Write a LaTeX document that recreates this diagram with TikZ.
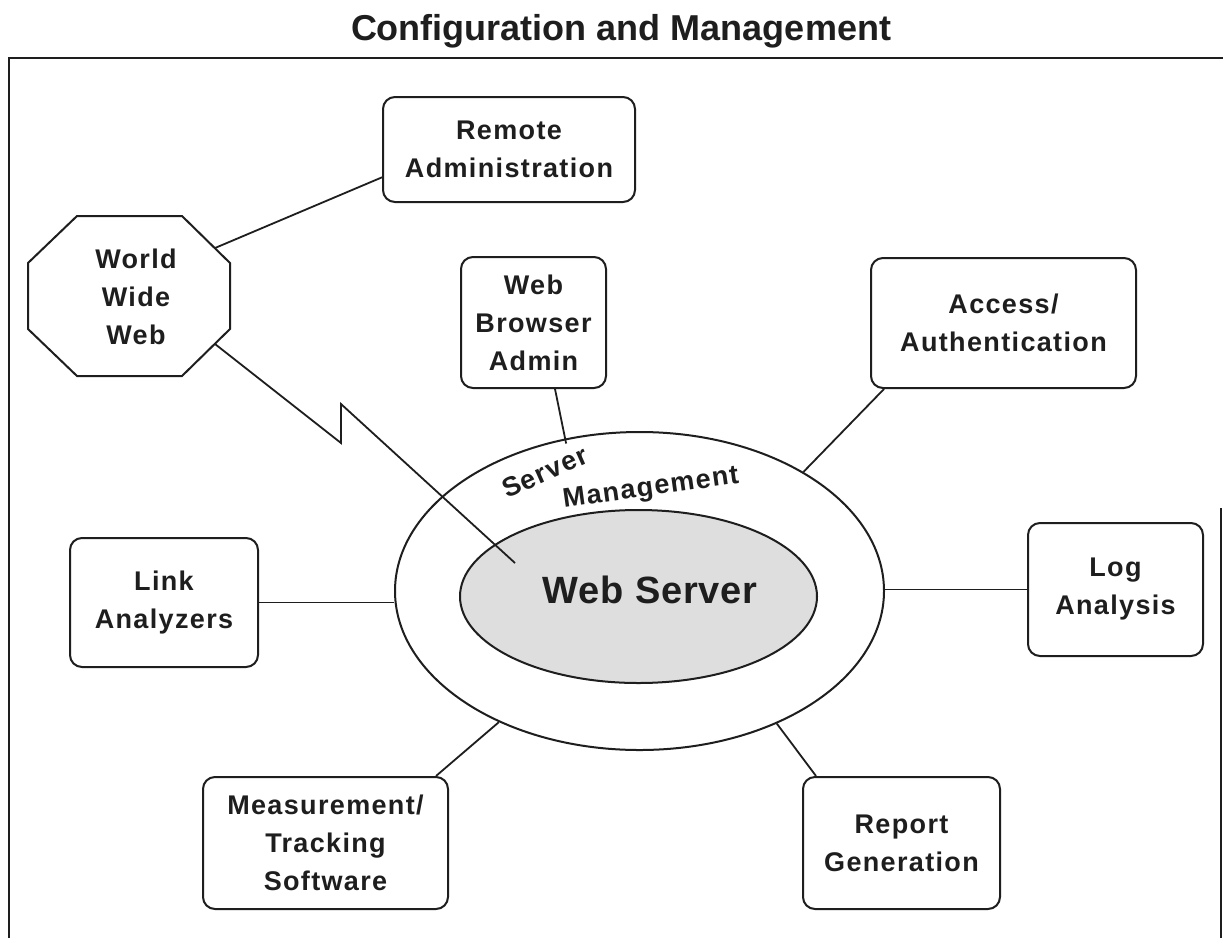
\documentclass[tikz,border=0pt]{standalone}
\usepackage{fontspec}
\setmainfont{Liberation Sans}
\newfontfamily\lblfont[LetterSpace=5]{Liberation Sans}
\newfontfamily\bigfont[LetterSpace=2]{Liberation Sans}
\usetikzlibrary{shapes.geometric,calc}
\definecolor{ink}{HTML}{1E1E1E}
\definecolor{shade}{HTML}{DEDEDE}
\begin{document}
\begin{tikzpicture}[x=1pt,y=-1pt,line width=2pt,draw=ink,
  lbl/.style={text=ink,align=center,inner sep=0pt,font=\lblfont\bfseries\fontsize{27}{38}\selectfont},
  box/.style={lbl,draw=ink,rounded corners=12pt},
  conn/.style={draw=ink,line width=1.8pt}]
\useasboundingbox (0,0) rectangle (1223,938);
\fill[white] (0,0) rectangle (1223,938);
% frame
\draw[line width=2pt] (9,938) -- (9,58) -- (1223,58);
\draw[line width=2pt] (1221,508) -- (1221,938);
% title
\node[text=ink,inner sep=0pt,font=\bfseries\fontsize{36}{40}\selectfont] (title) at (621,31) {Configuration and Management};
% boxes
\node[box,minimum width=252,minimum height=105] (rem) at (509,149.5) {Remote\\Administration};
\node[box,minimum width=145,minimum height=131] (wba) at (533.5,322.5) {Web\\Browser\\Admin};
\node[box,minimum width=265,minimum height=130] (acc) at (1003.5,323) {Access/\\Authentication};
\node[box,minimum width=188,minimum height=129] (link) at (164,602.5) {Link\\Analyzers};
\node[box,minimum width=175,minimum height=133] (log) at (1115.5,589.5) {Log\\Analysis};
\node[box,minimum width=245,minimum height=132] (meas) at (325.5,843) {Measurement/\\Tracking\\Software};
\node[box,minimum width=197,minimum height=132] (rep) at (901.5,843) {Report\\Generation};
% octagon
\draw[line width=2pt,line join=miter] (77,216) -- (182,216) -- (230,263) -- (230,329) -- (182,376) -- (77,376) -- (28,329) -- (28,263) -- cycle;
\node[lbl] (www) at (136,297) {World\\Wide\\Web};
\coordinate (wwwup) at (215,248);
\coordinate (wwwdn) at (215,344);
% ellipses
\node[draw=ink,ellipse,line width=2pt,minimum width=489,minimum height=318,inner sep=0pt] (outer) at (639.5,591) {};
\node[draw=ink,ellipse,line width=2pt,fill=shade,minimum width=357,minimum height=173,inner sep=0pt] (inner) at (638.5,596.5) {};
\node[text=ink,inner sep=0pt,font=\bigfont\bfseries\fontsize{38}{40}\selectfont] (ws) at (650,590) {Web Server};
\node[lbl,rotate=24] (srv) at (545,472) {Server};
\node[lbl,rotate=8] (mgmt) at (651,489) {Management};
% connectors
\draw[conn] (wwwup) -- ($(rem.south west)!0.24!(rem.north west)$);
\coordinate (zz1) at (341,443);
\coordinate (zz2) at (341,404);
\coordinate (zend) at (515,563);
\draw[conn,line join=miter] (wwwdn) -- (zz1) -- (zz2) -- (zend);
\draw[conn] ($(wba.south)+(21.5,0)$) -- ($(outer.116)+(1,5)$);
\draw[conn] ($(acc.south west)+(14,0)$) -- (outer.36.5);
\draw[conn] (link.east) -- (link.east -| outer.west);
\draw[conn] (log.west) -- (log.west -| outer.east);
\draw[conn] ($(meas.north east)+(-13,0)$) -- (outer.223.2);
\draw[conn] ($(rep.north west)+(14,0)$) -- (outer.316.4);
\end{tikzpicture}
\end{document}
